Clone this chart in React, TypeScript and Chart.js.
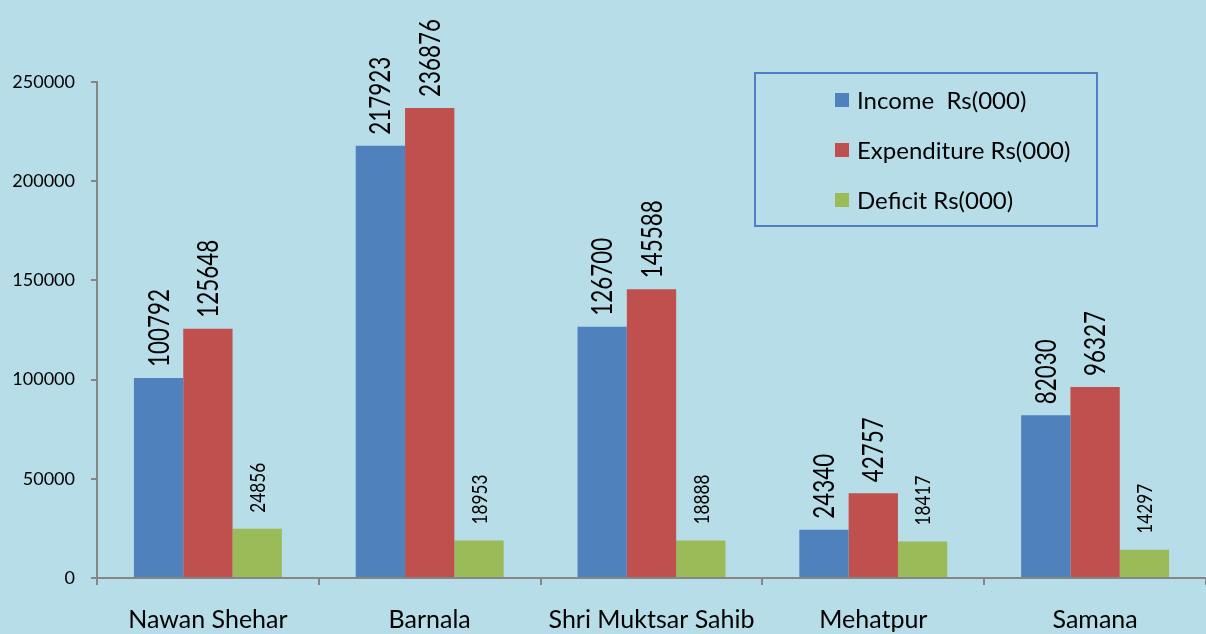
import React, { useEffect, useRef } from "react";
import { Chart, registerables } from "chart.js";

Chart.register(...registerables);

const categories = ["Nawan Shehar", "Barnala", "Shri Muktsar Sahib", "Mehatpur", "Samana"];
const income = [100792, 217923, 126700, 24340, 82030];
const expenditure = [125648, 236876, 145588, 42757, 96327];
const deficit = [24856, 18953, 18888, 18417, 14297];
const seriesNames = ["Income  Rs(000)", "Expenditure Rs(000)", "Deficit Rs(000)"];
const seriesColors = ["#4f81bd", "#c0504d", "#9bbb59"];
const yTicks = [0, 50000, 100000, 150000, 200000, 250000];

const BG = "#b7dde8";
const FONT = "Lato, 'Open Sans', sans-serif";

const bgPlugin = {
  id: "bg",
  beforeDraw(chart: any) {
    const { ctx, width, height } = chart;
    ctx.save();
    ctx.fillStyle = BG;
    ctx.fillRect(0, 0, width, height);
    ctx.restore();
  },
};

const labelPlugin = {
  id: "vlabels",
  afterDatasetsDraw(chart: any) {
    const { ctx } = chart;
    chart.data.datasets.forEach((ds: any, di: number) => {
      const meta = chart.getDatasetMeta(di);
      const small = di === 2;
      const fontSize = small ? 21 : 28;
      const perDigit = small ? 10 : 13;
      const gap = small ? 16 : 11;
      meta.data.forEach((bar: any, i: number) => {
        const text = String(ds.data[i]);
        ctx.save();
        ctx.font = `${fontSize}px ${FONT}`;
        const w = ctx.measureText(text).width;
        const sx = (perDigit * text.length) / w;
        ctx.translate(bar.x, bar.y - gap);
        ctx.rotate(-Math.PI / 2);
        ctx.scale(sx, 1);
        ctx.fillStyle = "#000";
        ctx.textAlign = "left";
        ctx.textBaseline = "middle";
        ctx.fillText(text, 0, 1);
        ctx.restore();
      });
    });
  },
};

const legendPlugin = {
  id: "boxlegend",
  afterDraw(chart: any) {
    const { ctx } = chart;
    ctx.save();
    ctx.strokeStyle = "#4f7fc0";
    ctx.lineWidth = 2;
    ctx.strokeRect(755, 73, 342, 153);
    const rows = [100, 150, 200];
    ctx.font = `24px ${FONT}`;
    ctx.textBaseline = "middle";
    ctx.textAlign = "left";
    seriesNames.forEach((name, k) => {
      ctx.fillStyle = seriesColors[k];
      ctx.fillRect(835, rows[k] - 7, 14, 14);
      ctx.fillStyle = "#000";
      ctx.fillText(name, 857, rows[k] + 1);
    });
    ctx.restore();
  },
};

export default function App() {
  const ref = useRef<HTMLCanvasElement | null>(null);
  useEffect(() => {
    document.body.style.margin = "0";
    document.body.style.background = BG;
    Chart.defaults.color = "#000";
    const chart = new Chart(ref.current as HTMLCanvasElement, {
      type: "bar",
      data: {
        labels: categories,
        datasets: [income, expenditure, deficit].map((d, k) => ({
          label: seriesNames[k],
          data: d,
          backgroundColor: seriesColors[k],
          borderWidth: 0,
          categoryPercentage: 0.667,
          barPercentage: 1,
        })),
      },
      options: {
        animation: false,
        responsive: true,
        maintainAspectRatio: false,
        layout: { padding: { top: 82, right: -3, left: 0, bottom: 0 } },
        plugins: { legend: { display: false }, tooltip: { enabled: false } },
        scales: {
          x: {
            afterFit(scale: any) {
              scale.height = 56;
            },
            grid: {
              display: true,
              offset: true,
              drawOnChartArea: false,
              drawTicks: true,
              tickLength: 7,
              color: "#868686",
              lineWidth: 2,
            },
            border: { display: true, color: "#868686", width: 2 },
            ticks: {
              font: { family: FONT, size: 25 },
              color: "#000",
              padding: 20,
              maxRotation: 0,
              autoSkip: false,
            },
          },
          y: {
            min: 0,
            max: 250000,
            afterFit(scale: any) {
              scale.width = 97;
            },
            afterBuildTicks(scale: any) {
              scale.ticks = yTicks.map((v) => ({ value: v }));
            },
            grid: {
              display: true,
              drawOnChartArea: false,
              drawTicks: true,
              tickLength: 6,
              color: "#868686",
              lineWidth: 2,
            },
            border: { display: true, color: "#868686", width: 2 },
            ticks: {
              font: { family: FONT, size: 18 },
              color: "#000",
              padding: 16,
              callback: (v: any) => String(v),
            },
          },
        },
      },
      plugins: [bgPlugin, labelPlugin, legendPlugin],
    });
    return () => chart.destroy();
  }, []);
  return (
    <div style={{ position: "relative", width: 1206, height: 634 }}>
      <canvas ref={ref} />
    </div>
  );
}
